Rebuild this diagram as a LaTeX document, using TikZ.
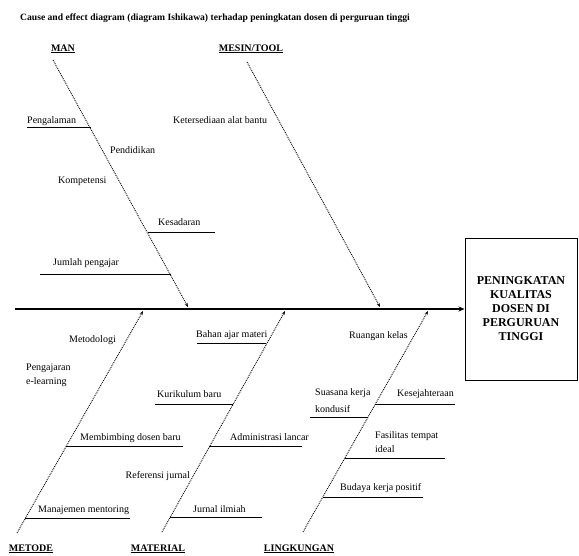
\documentclass[tikz,border=0pt]{standalone}
\usepackage{fontspec}
\setmainfont{Liberation Serif}
\usetikzlibrary{arrows.meta}
\begin{document}
\begin{tikzpicture}[x=1pt,y=-1pt,
  lbl/.style={font=\fontsize{10}{12}\selectfont, inner sep=0pt},
  cat/.style={font=\fontsize{10}{12}\selectfont\bfseries, inner sep=0pt},
  bone/.style={densely dotted, line width=0.9pt, -{Stealth[length=4pt,width=3pt]}},
  sub/.style={line width=0.9pt},
  spine/.style={line width=2.2pt, -{Stealth[length=6pt,width=5pt]}}]
\useasboundingbox (0,0) rectangle (579,555);

% title
\node[font=\fontsize{9.6}{11}\selectfont\bfseries, inner sep=0pt, anchor=base west] (title) at (20,20)
  {Cause and effect diagram (diagram Ishikawa) terhadap peningkatan dosen di perguruan tinggi};

% effect box
\node[draw, line width=1pt, minimum width=112pt, minimum height=142pt, inner sep=0pt,
  align=center, font=\fontsize{12}{14}\selectfont\bfseries] (effect) at (521,309)
  {PENINGKATAN\\KUALITAS\\DOSEN DI\\PERGURUAN\\TINGGI};

% spine
\coordinate (sp0) at (15,309);
\draw[spine] (sp0) -- (effect.west |- sp0);

% categories
\node[cat, anchor=base] (man) at (63,51) {\underline{MAN}};
\node[cat, anchor=base] (mesin) at (251,51) {\underline{MESIN/TOOL}};
\node[cat, anchor=base] (metode) at (31,551) {\underline{METODE}};
\node[cat, anchor=base] (material) at (158,551) {\underline{MATERIAL}};
\node[cat, anchor=base] (lingk) at (299,551) {\underline{LINGKUNGAN}};

% bones
\coordinate (m0) at (53,60);   \coordinate (m1) at (188,307);
\coordinate (s0) at (247,62);  \coordinate (s1) at (380,307);
\coordinate (b0) at (17,533);  \coordinate (b1) at (143,311);
\coordinate (t0) at (162,532); \coordinate (t1) at (285,311);
\coordinate (l0) at (303,532); \coordinate (l1) at (428,311);
\draw[bone] (m0) -- (m1);
\draw[bone] (s0) -- (s1);
\draw[bone] (b0) -- (b1);
\draw[bone] (t0) -- (t1);
\draw[bone] (l0) -- (l1);

% MAN causes
\node[lbl, anchor=base west] (pengalaman) at (27,123) {Pengalaman};
\coordinate (pgA) at (27,127); \coordinate (pgB) at (90.6,127);
\draw[sub] (pgA) -- (pgB);
\node[lbl, anchor=base west] (pendidikan) at (110,153) {Pendidikan};
\node[lbl, anchor=base west] (kompetensi) at (58,183) {Kompetensi};
\node[lbl, anchor=base west] (kesadaran) at (158,225) {Kesadaran};
\coordinate (ksA) at (148.2,232); \coordinate (ksB) at (215,232);
\draw[sub] (ksA) -- (ksB);
\node[lbl, anchor=base west] (jumlah) at (53,265) {Jumlah pengajar};
\coordinate (jmA) at (40,274); \coordinate (jmB) at (171.4,274);
\draw[sub] (jmA) -- (jmB);

% MESIN causes
\node[lbl, anchor=base west] (ketersediaan) at (173,123) {Ketersediaan alat bantu};

% METODE causes
\node[lbl, anchor=base east] (metodologi) at (116,342) {Metodologi};
\node[lbl, anchor=base west] (pengajaran) at (26,370) {Pengajaran};
\node[lbl, anchor=base west] (elearning) at (26,384) {e-learning};
\node[lbl, anchor=base west] (membimbing) at (80,440) {Membimbing dosen baru};
\coordinate (mbA) at (65.9,446); \coordinate (mbB) at (183,446);
\draw[sub] (mbA) -- (mbB);
\node[lbl, anchor=base west] (manajemen) at (38,512) {Manajemen mentoring};
\coordinate (mjA) at (25.4,518); \coordinate (mjB) at (130,518);
\draw[sub] (mjA) -- (mjB);

% MATERIAL causes
\node[lbl, anchor=base west] (bahan) at (196,337) {Bahan ajar materi};
\coordinate (bhA) at (197,343); \coordinate (bhB) at (266.2,343);
\draw[sub] (bhA) -- (bhB);
\node[lbl, anchor=base west] (kurikulum) at (157,397) {Kurikulum baru};
\coordinate (kuA) at (155,404); \coordinate (kuB) at (232.6,404);
\draw[sub] (kuA) -- (kuB);
\node[lbl, anchor=base west] (administrasi) at (230,440) {Administrasi lancar};
\coordinate (adA) at (209.4,446); \coordinate (adB) at (302,446);
\draw[sub] (adA) -- (adB);
\node[lbl, anchor=base east] (referensi) at (190,478) {Referensi jurnal};
\node[lbl, anchor=base west] (jurnal) at (193,512) {Jurnal ilmiah};
\coordinate (juA) at (170.3,517); \coordinate (juB) at (262,517);
\draw[sub] (juA) -- (juB);

% LINGKUNGAN causes
\node[lbl, anchor=base east] (ruangan) at (408,338) {Ruangan kelas};
\node[lbl, anchor=base west] (suasana) at (315,395) {Suasana kerja};
\node[lbl, anchor=base west] (kondusif) at (315,412) {kondusif};
\coordinate (suA) at (310,417); \coordinate (suB) at (367.5,417);
\draw[sub] (suA) -- (suB);
\node[lbl, anchor=base west] (kesejahteraan) at (397,396) {Kesejahteraan};
\coordinate (kjA) at (374.8,404); \coordinate (kjB) at (455,404);
\draw[sub] (kjA) -- (kjB);
\node[lbl, anchor=base west] (fasilitas) at (375,438) {Fasilitas tempat};
\node[lbl, anchor=base west] (ideal) at (375,452) {ideal};
\coordinate (fsA) at (344.5,458); \coordinate (fsB) at (445,458);
\draw[sub] (fsA) -- (fsB);
\node[lbl, anchor=base west] (budaya) at (340,490) {Budaya kerja positif};
\coordinate (bdA) at (322.6,497); \coordinate (bdB) at (423,497);
\draw[sub] (bdA) -- (bdB);
\end{tikzpicture}
\end{document}
